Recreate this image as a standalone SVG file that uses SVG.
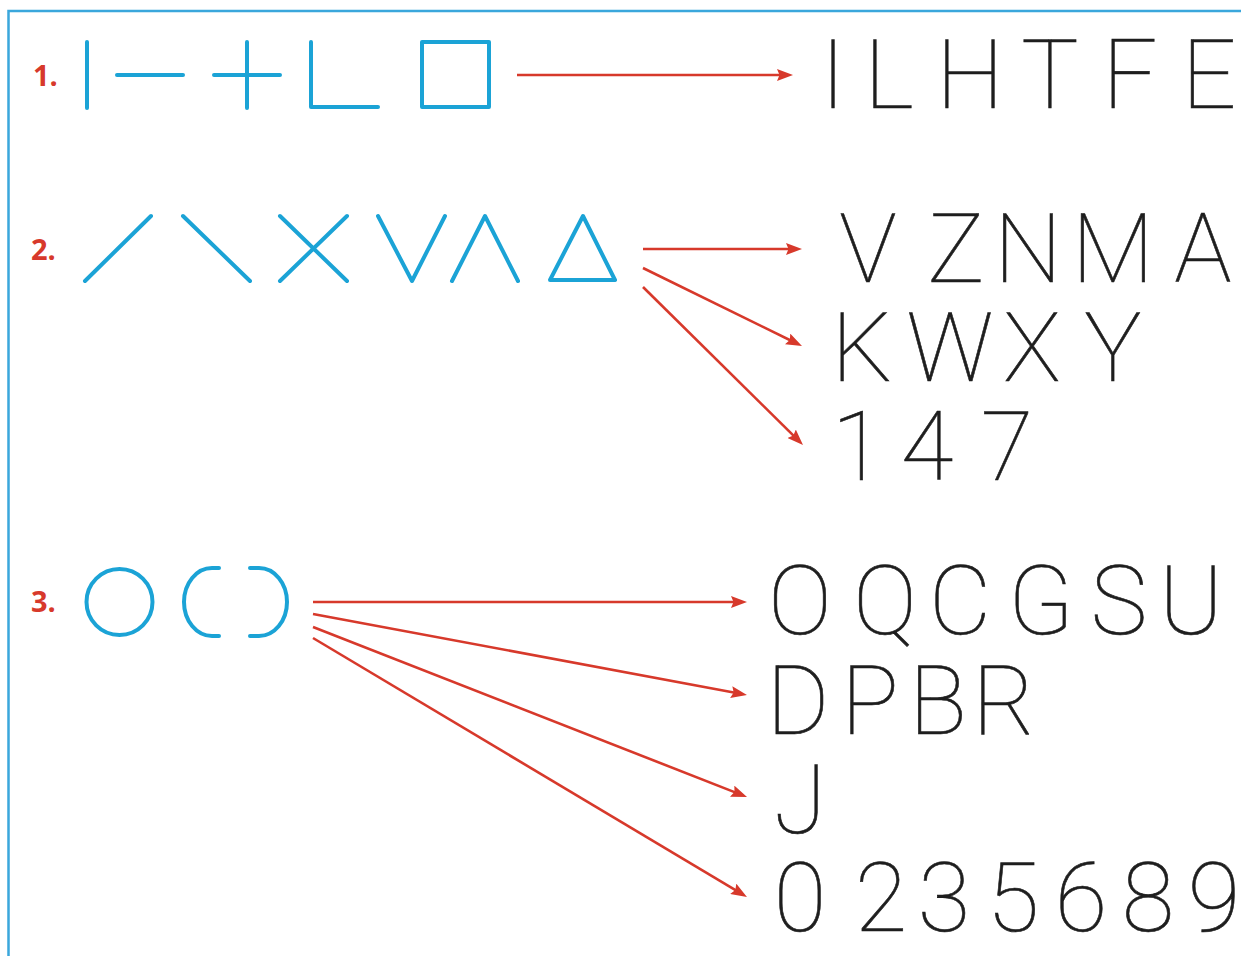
<svg xmlns="http://www.w3.org/2000/svg" width="1241" height="956" viewBox="0 0 1241 956">
  <defs>
    <marker id="ah" markerUnits="userSpaceOnUse" markerWidth="16" markerHeight="12" viewBox="0 0 16 12" refX="8" refY="6" orient="auto">
      <path d="M0,0 L16,6 L0,12 L2.5,6 z" fill="#d7392b"/>
    </marker>
  </defs>
  <style>
    .frame { fill: none; stroke: #3aa7dc; stroke-width: 2.5; }
    .shape { fill: none; stroke: #1ba3d6; stroke-width: 4; stroke-linecap: round; stroke-linejoin: round; }
    .num { font-family: "Open Sans", "Liberation Sans", sans-serif; font-weight: 700; font-size: 29px; fill: #d7392b; }
    .glyph { font-family: Roboto, "DejaVu Sans", sans-serif; font-weight: 100; font-size: 96px; fill: #1e1e1e; stroke: #1e1e1e; stroke-width: 0.6; text-anchor: middle; }
    .arrow { fill: none; stroke: #d7392b; stroke-width: 2.6; marker-end: url(#ah); }
  </style>
  <rect width="1241" height="956" fill="#ffffff"/>
  <path class="frame" d="M8.5,956 V11 H1241"/>

  <g id="row1-label"><text class="num" x="33" y="86">1.</text></g>
  <g id="row1-shapes">
    <line class="shape" x1="87" y1="42" x2="87" y2="108"/>
    <line class="shape" x1="117" y1="75" x2="183" y2="75"/>
    <path class="shape" d="M214,75 H280 M247,42 V108"/>
    <path class="shape" d="M311,42 V107 H378"/>
    <rect class="shape" x="422" y="42" width="67" height="65"/>
  </g>
  <g id="row1-letters"><text class="glyph" x="833 889 970 1050 1130 1209" y="108">ILHTFE</text></g>

  <g id="row2-label"><text class="num" x="31" y="260">2.</text></g>
  <g id="row2-shapes">
    <line class="shape" x1="85" y1="281" x2="151" y2="216"/>
    <line class="shape" x1="183" y1="216" x2="250" y2="281"/>
    <path class="shape" d="M280,216 L347,281 M280,281 L347,216"/>
    <path class="shape" d="M378,216 L412,281 L445,216"/>
    <path class="shape" d="M452,281 L485,216 L518,281"/>
    <path class="shape" d="M583,216 L615,280 H550 Z"/>
  </g>
  <g id="row2-letters">
    <text class="glyph" x="868 956 1028 1113 1203" y="282">VZNMA</text>
    <text class="glyph" x="862 950 1032 1113" y="381">KWXY</text>
    <text class="glyph" x="858 927 1007" y="480">147</text>
  </g>

  <g id="row3-label"><text class="num" x="31" y="612">3.</text></g>
  <g id="row3-shapes">
    <circle class="shape" cx="119.5" cy="602" r="33"/>
    <path class="shape" d="M219,568 H212 A28,34 0 0 0 212,636 H219"/>
    <path class="shape" d="M250,568 H259 A28,34 0 0 1 259,636 H250"/>
  </g>
  <g id="row3-letters">
    <text class="glyph" x="800 885 960 1041 1119 1191" y="634">OQCGSU</text>
    <text class="glyph" x="798 870 938 1004" y="734">DPBR</text>
    <text class="glyph" x="800" y="833">J</text>
    <text class="glyph" x="800 881 944 1013 1081 1148 1214" y="931">0235689</text>
  </g>

  <g id="connectors">
    <line class="arrow" x1="517" y1="75" x2="785" y2="75"/>
    <line class="arrow" x1="643" y1="249" x2="794" y2="249"/>
    <line class="arrow" x1="643" y1="268" x2="794.8" y2="342.5"/>
    <line class="arrow" x1="643" y1="287" x2="797.3" y2="439.4"/>
    <line class="arrow" x1="313" y1="602" x2="739" y2="602"/>
    <line class="arrow" x1="313" y1="614" x2="739.1" y2="693.5"/>
    <line class="arrow" x1="313" y1="627" x2="739.6" y2="794.1"/>
    <line class="arrow" x1="313" y1="638" x2="740.1" y2="892.9"/>
  </g>
</svg>
